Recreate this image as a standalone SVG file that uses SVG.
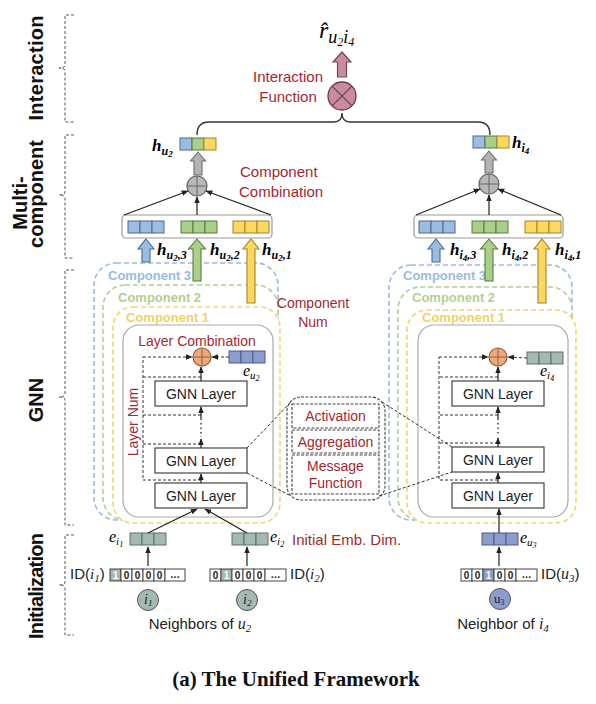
<svg xmlns="http://www.w3.org/2000/svg" width="596" height="704" viewBox="0 0 596 704">
<defs>
<marker id="ah" viewBox="0 0 10 10" refX="9" refY="5" markerWidth="7" markerHeight="7" markerUnits="userSpaceOnUse" orient="auto"><path d="M0,1 L10,5 L0,9 z" fill="#222"/></marker>
<style>
.sans{font-family:"Liberation Sans",Arial,sans-serif}
.bold{font-weight:bold}
.red{fill:#a3282f}
.mi{font-family:"Liberation Serif","Times New Roman",serif;font-style:italic}
.mb{font-family:"Liberation Serif","Times New Roman",serif;font-style:italic;font-weight:bold}
.br{fill:none;stroke:#555;stroke-width:1;stroke-dasharray:3 2}
.ln{stroke:#222;stroke-width:1.2;fill:none}
.dl{stroke:#333;stroke-width:1;fill:none;stroke-dasharray:3 2}
.cb{fill:#9cbde3;stroke:#55697f;stroke-width:1}
.cg{fill:#a9cf8a;stroke:#5b7a3e;stroke-width:1}
.cy{fill:#ffd75e;stroke:#a08530;stroke-width:1}
.cp{fill:#8c9ccc;stroke:#4f5b85;stroke-width:1}
.ct{fill:#a3b9b1;stroke:#5d716a;stroke-width:1}
.oh{fill:#fff;stroke:#444;stroke-width:1}
.gl{fill:#fff;stroke:#444;stroke-width:1.2}
.comp3{fill:#fff;stroke:#9bbbe0;stroke-width:1.6;stroke-dasharray:5 3}
.comp2{fill:#fff;stroke:#b3cf8f;stroke-width:1.6;stroke-dasharray:5 3}
.comp1{fill:#fff;stroke:#f3d56a;stroke-width:1.6;stroke-dasharray:5 3}
.gray{fill:#fff;stroke:#aaa;stroke-width:1.2}
.mod{fill:#fff;stroke:#444;stroke-width:1.1;stroke-dasharray:3 1.5}
</style>
</defs>
<rect x="0" y="0" width="596" height="704" fill="#fff"/>

<!-- side labels -->
<g id="side-labels" class="sans bold" font-size="20" fill="#111">
<text transform="translate(43,68) rotate(-90)" text-anchor="middle" textLength="105">Interaction</text>
<text transform="translate(27,203) rotate(-90)" text-anchor="middle">Multi-</text>
<text transform="translate(43,194) rotate(-90)" text-anchor="middle">component</text>
<text transform="translate(43,400) rotate(-90)" text-anchor="middle">GNN</text>
<text transform="translate(43,586) rotate(-90)" text-anchor="middle" textLength="106">Initialization</text>
</g>
<g id="brackets">
<path class="br" d="M74,15 L65,15 L65,65 Q65,68 59,68 Q65,68 65,71 L65,122 L74,122"/>
<path class="br" d="M74,135 L65,135 L65,192 Q65,195 59,195 Q65,195 65,198 L65,258 L74,258"/>
<path class="br" d="M74,270 L65,270 L65,394 Q65,397 59,397 Q65,397 65,400 L65,525 L74,525"/>
<path class="br" d="M74,535 L65,535 L65,582 Q65,585 59,585 Q65,585 65,588 L65,635 L74,635"/>
</g>

<!-- interaction -->
<g id="interaction">
<text x="319" y="38" class="mi" font-size="24">r&#770;<tspan font-size="18" dy="5">u</tspan><tspan font-size="12" dy="3">2</tspan><tspan font-size="18" dy="-3">i</tspan><tspan font-size="12" dy="3">4</tspan></text>
<path d="M342,52 L351,62 L346.5,62 L346.5,77 L337.5,77 L337.5,62 L333,62 Z" fill="#c98b9e" stroke="#7a4457" stroke-width="1.2"/>
<circle cx="342" cy="96" r="14" fill="#c98b9e" stroke="#6a3a4a" stroke-width="1.3"/>
<path d="M332.1,86.1 L351.9,105.9 M351.9,86.1 L332.1,105.9" stroke="#6a3a4a" stroke-width="1.1"/>
<text class="sans red" font-size="15" text-anchor="middle"><tspan x="288" y="82">Interaction</tspan><tspan x="288" y="102">Function</tspan></text>
<path d="M197,135 Q197,122 209,122 L334,122 Q342,122 342,113 Q342,122 350,122 L478,122 Q490,122 490,135" fill="none" stroke="#333" stroke-width="1.4"/>
</g>

<!-- multi-component left -->
<g id="mc-left">
<text x="152" y="151" class="mb" font-size="17">h<tspan font-size="12" dy="4">u</tspan><tspan font-size="9" dy="2">2</tspan></text>
<rect class="cb" x="180" y="138" width="12" height="12"/><rect class="cg" x="192" y="138" width="12" height="12"/><rect class="cy" x="204" y="138" width="12" height="12"/>
<path d="M198,152 L205.5,161 L202,161 L202,175 L194,175 L194,161 L190.5,161 Z" fill="#b3b3b3" stroke="#6f6f6f" stroke-width="1.1"/>
<circle cx="197" cy="186" r="10" fill="#b8b8b8" stroke="#666" stroke-width="1.2"/>
<path d="M187,186 L207,186 M197,176 L197,196" stroke="#666" stroke-width="1"/>
<text class="sans red" font-size="15"><tspan x="240" y="177">Component</tspan><tspan x="239" y="197">Combination</tspan></text>
<rect x="122" y="215" width="150" height="23" rx="4" fill="#fff" stroke="#999" stroke-width="1.2"/>
<rect class="cb" x="128" y="221" width="12" height="12"/><rect class="cb" x="140" y="221" width="12" height="12"/><rect class="cb" x="152" y="221" width="12" height="12"/>
<rect class="cg" x="181" y="221" width="12" height="12"/><rect class="cg" x="193" y="221" width="12" height="12"/><rect class="cg" x="205" y="221" width="12" height="12"/>
<rect class="cy" x="233" y="221" width="12" height="12"/><rect class="cy" x="245" y="221" width="12" height="12"/><rect class="cy" x="257" y="221" width="12" height="12"/>
</g>

<!-- multi-component right -->
<g id="mc-right">
<rect class="cb" x="473" y="136" width="12" height="12"/><rect class="cg" x="485" y="136" width="12" height="12"/><rect class="cy" x="497" y="136" width="12" height="12"/>
<text x="512" y="148" class="mb" font-size="17">h<tspan font-size="12" dy="4">i</tspan><tspan font-size="9" dy="2">4</tspan></text>
<path d="M489,151 L496.5,160 L493,160 L493,173 L485,173 L485,160 L481.5,160 Z" fill="#b3b3b3" stroke="#6f6f6f" stroke-width="1.1"/>
<circle cx="489" cy="184" r="10" fill="#b8b8b8" stroke="#666" stroke-width="1.2"/>
<path d="M479,184 L499,184 M489,174 L489,194" stroke="#666" stroke-width="1"/>
<rect x="414" y="215" width="149" height="23" rx="4" fill="#fff" stroke="#999" stroke-width="1.2"/>
<rect class="cb" x="419" y="221" width="12" height="12"/><rect class="cb" x="431" y="221" width="12" height="12"/><rect class="cb" x="443" y="221" width="12" height="12"/>
<rect class="cg" x="472" y="221" width="12" height="12"/><rect class="cg" x="484" y="221" width="12" height="12"/><rect class="cg" x="496" y="221" width="12" height="12"/>
<rect class="cy" x="525" y="221" width="12" height="12"/><rect class="cy" x="537" y="221" width="12" height="12"/><rect class="cy" x="549" y="221" width="12" height="12"/>
</g>

<!-- component boxes left -->
<g id="components-left">
<rect class="comp3" x="94" y="263" width="184" height="257" rx="22"/>
<rect class="comp2" x="103" y="285" width="175" height="235" rx="22"/>
<rect class="comp1" x="113" y="307" width="167" height="216" rx="20"/>
<text class="sans bold" font-size="13" fill="#9bbbe0" x="108" y="280">Component 3</text>
<text class="sans bold" font-size="13" fill="#b3cf8f" x="118" y="302">Component 2</text>
<text class="sans bold" font-size="13" fill="#f0d265" x="126" y="322">Component 1</text>
</g>
<!-- component boxes right -->
<g id="components-right">
<rect class="comp3" x="389" y="265" width="183" height="255" rx="22"/>
<rect class="comp2" x="398" y="287" width="174" height="233" rx="22"/>
<rect class="comp1" x="407" y="310" width="169" height="213" rx="20"/>
<text class="sans bold" font-size="13" fill="#9bbbe0" x="403" y="280">Component 3</text>
<text class="sans bold" font-size="13" fill="#b3cf8f" x="412" y="302">Component 2</text>
<text class="sans bold" font-size="13" fill="#f0d265" x="422" y="322">Component 1</text>
</g>

<!-- component arrows + labels -->
<g id="component-arrows">
<path d="M146,239 L154,249 L150,249 L150,262 L142,262 L142,249 L138,249 Z" fill="#9cbde3" stroke="#4a6a8a" stroke-width="1.1"/>
<path d="M197,239 L205.5,249 L201,249 L201,281 L193,281 L193,249 L188.5,249 Z" fill="#a9cf8a" stroke="#5b7a3e" stroke-width="1.1"/>
<path d="M251,239 L259,249 L255,249 L255,303 L247,303 L247,249 L243,249 Z" fill="#ffd75e" stroke="#a08530" stroke-width="1.1"/>
<path d="M436,239 L444,249 L440,249 L440,262 L432,262 L432,249 L428,249 Z" fill="#9cbde3" stroke="#4a6a8a" stroke-width="1.1"/>
<path d="M489,239 L497.5,249 L493,249 L493,281 L485,281 L485,249 L480.5,249 Z" fill="#a9cf8a" stroke="#5b7a3e" stroke-width="1.1"/>
<path d="M542,239 L550,249 L546,249 L546,303 L538,303 L538,249 L534,249 Z" fill="#ffd75e" stroke="#a08530" stroke-width="1.1"/>
<text x="157" y="255" class="mb" font-size="17">h<tspan font-size="12" dy="4">u</tspan><tspan font-size="9" dy="2">2</tspan><tspan font-size="12" dy="-2">,3</tspan></text>
<text x="210" y="255" class="mb" font-size="17">h<tspan font-size="12" dy="4">u</tspan><tspan font-size="9" dy="2">2</tspan><tspan font-size="12" dy="-2">,2</tspan></text>
<text x="262" y="255" class="mb" font-size="17">h<tspan font-size="12" dy="4">u</tspan><tspan font-size="9" dy="2">2</tspan><tspan font-size="12" dy="-2">,1</tspan></text>
<text x="450" y="255" class="mb" font-size="17">h<tspan font-size="12" dy="4">i</tspan><tspan font-size="9" dy="2">4</tspan><tspan font-size="12" dy="-2">,3</tspan></text>
<text x="502" y="255" class="mb" font-size="17">h<tspan font-size="12" dy="4">i</tspan><tspan font-size="9" dy="2">4</tspan><tspan font-size="12" dy="-2">,2</tspan></text>
<text x="555" y="255" class="mb" font-size="17">h<tspan font-size="12" dy="4">i</tspan><tspan font-size="9" dy="2">4</tspan><tspan font-size="12" dy="-2">,1</tspan></text>
<text class="sans red" font-size="14" text-anchor="middle"><tspan x="313" y="308">Component</tspan><tspan x="313" y="327">Num</tspan></text>
</g>

<!-- GNN left -->
<g id="gnn-left">
<rect class="gray" x="123" y="325" width="150" height="192" rx="16"/>
<text class="sans red" font-size="14" x="197" y="346" text-anchor="middle">Layer Combination</text>
<text class="sans red" font-size="14" transform="translate(138,422) rotate(-90)" text-anchor="middle">Layer Num</text>
<rect class="cp" x="229" y="351" width="12" height="12"/><rect class="cp" x="241" y="351" width="12" height="12"/><rect class="cp" x="253" y="351" width="12" height="12"/>
<text x="243" y="376" class="mi" font-size="16">e<tspan font-size="11" dy="3">u</tspan><tspan font-size="8" dy="2">2</tspan></text>
<circle cx="202" cy="357" r="9" fill="#f0a878" stroke="#8a5a3a" stroke-width="1.1"/>
<path d="M193,357 L211,357 M202,348 L202,366" stroke="#8a5a3a" stroke-width="0.9"/>
<rect class="gl" x="155" y="381" width="92" height="25"/>
<rect class="gl" x="155" y="448" width="92" height="25"/>
<rect class="gl" x="155" y="483" width="92" height="25"/>
<text class="sans" font-size="14" fill="#222" text-anchor="middle"><tspan x="201" y="399">GNN Layer</tspan><tspan x="201" y="466">GNN Layer</tspan><tspan x="201" y="501">GNN Layer</tspan></text>
</g>
<!-- GNN right -->
<g id="gnn-right">
<rect class="gray" x="418" y="325" width="150" height="192" rx="16"/>
<rect class="ct" x="527" y="352" width="12" height="12"/><rect class="ct" x="539" y="352" width="12" height="12"/><rect class="ct" x="551" y="352" width="12" height="12"/>
<text x="540" y="376" class="mi" font-size="16">e<tspan font-size="11" dy="3">i</tspan><tspan font-size="8" dy="2">4</tspan></text>
<circle cx="498" cy="357" r="9" fill="#f0a878" stroke="#8a5a3a" stroke-width="1.1"/>
<path d="M489,357 L507,357 M498,348 L498,366" stroke="#8a5a3a" stroke-width="0.9"/>
<rect class="gl" x="452" y="381" width="92" height="25"/>
<rect class="gl" x="452" y="447" width="92" height="25"/>
<rect class="gl" x="452" y="483" width="92" height="25"/>
<text class="sans" font-size="14" fill="#222" text-anchor="middle"><tspan x="498" y="399">GNN Layer</tspan><tspan x="498" y="465">GNN Layer</tspan><tspan x="498" y="501">GNN Layer</tspan></text>
</g>

<!-- message module -->
<g id="gnn-layer-detail">
<rect class="mod" x="287" y="397" width="98" height="103" rx="14"/>
<rect class="mod" x="292" y="404" width="87" height="24"/>
<rect class="mod" x="292" y="430" width="87" height="23"/>
<rect class="mod" x="292" y="455" width="87" height="39"/>
<text class="sans red" font-size="14" text-anchor="middle"><tspan x="335.5" y="421">Activation</tspan><tspan x="335.5" y="447">Aggregation</tspan><tspan x="335.5" y="471">Message</tspan><tspan x="335.5" y="488">Function</tspan></text>
</g>

<!-- initialization -->
<g id="init-i1">
<rect class="ct" x="130" y="533" width="12" height="12"/><rect class="ct" x="142" y="533" width="12" height="12"/><rect class="ct" x="154" y="533" width="12" height="12"/>
<text x="109" y="542" class="mi" font-size="16">e<tspan font-size="11" dy="3">i</tspan><tspan font-size="8" dy="2">1</tspan></text>
<text x="70" y="579" class="sans" font-size="15" fill="#222">ID(<tspan class="mi">i</tspan><tspan class="mi" font-size="11" dy="3">1</tspan><tspan dy="-3">)</tspan></text>
<rect x="110" y="569" width="11" height="12" fill="#a3b9b1" stroke="#444" stroke-width="1"/>
<rect class="oh" x="121" y="569" width="11" height="12"/><rect class="oh" x="132" y="569" width="11" height="12"/><rect class="oh" x="143" y="569" width="11" height="12"/><rect class="oh" x="154" y="569" width="11" height="12"/><rect class="oh" x="165" y="569" width="20" height="12"/>
<text class="sans bold" font-size="10" text-anchor="middle" fill="#222"><tspan x="115.5" y="579" fill="#fff">1</tspan><tspan x="126.5" y="579">0</tspan><tspan x="137.5" y="579">0</tspan><tspan x="148.5" y="579">0</tspan><tspan x="159.5" y="579">0</tspan><tspan x="175" y="578">…</tspan></text>
<circle cx="148" cy="600" r="10.5" fill="#a3b9b1" stroke="#555" stroke-width="1"/>
<text x="144" y="604" class="mi" font-size="14" fill="#222">i<tspan font-size="9" dy="2">1</tspan></text>
</g>
<g id="init-i2">
<rect class="ct" x="232" y="533" width="12" height="12"/><rect class="ct" x="244" y="533" width="12" height="12"/><rect class="ct" x="256" y="533" width="12" height="12"/>
<text x="270" y="542" class="mi" font-size="16">e<tspan font-size="11" dy="3">i</tspan><tspan font-size="8" dy="2">2</tspan></text>
<rect class="oh" x="210" y="569" width="11" height="12"/>
<rect x="221" y="569" width="11" height="12" fill="#a3b9b1" stroke="#444" stroke-width="1"/>
<rect class="oh" x="232" y="569" width="11" height="12"/><rect class="oh" x="243" y="569" width="11" height="12"/><rect class="oh" x="254" y="569" width="11" height="12"/><rect class="oh" x="265" y="569" width="21" height="12"/>
<text class="sans bold" font-size="10" text-anchor="middle" fill="#222"><tspan x="215.5" y="579">0</tspan><tspan x="226.5" y="579" fill="#fff">1</tspan><tspan x="237.5" y="579">0</tspan><tspan x="248.5" y="579">0</tspan><tspan x="259.5" y="579">0</tspan><tspan x="275.5" y="578">…</tspan></text>
<text x="290" y="579" class="sans" font-size="15" fill="#222">ID(<tspan class="mi">i</tspan><tspan class="mi" font-size="11" dy="3">2</tspan><tspan dy="-3">)</tspan></text>
<circle cx="247" cy="600" r="10.5" fill="#a3b9b1" stroke="#555" stroke-width="1"/>
<text x="243" y="604" class="mi" font-size="14" fill="#222">i<tspan font-size="9" dy="2">2</tspan></text>
<text x="200" y="629" class="sans" font-size="15" fill="#222" text-anchor="middle">Neighbors of <tspan class="mi" font-size="16">u</tspan><tspan class="mi" font-size="11" dy="3">2</tspan></text>
</g>
<g id="init-u3">
<rect class="cp" x="482" y="533" width="12" height="12"/><rect class="cp" x="494" y="533" width="12" height="12"/><rect class="cp" x="506" y="533" width="12" height="12"/>
<text x="520" y="543" class="mi" font-size="16">e<tspan font-size="11" dy="3">u</tspan><tspan font-size="8" dy="2">3</tspan></text>
<rect class="oh" x="461" y="569" width="11" height="12"/><rect class="oh" x="472" y="569" width="11" height="12"/>
<rect x="483" y="569" width="11" height="12" fill="#8c9ccc" stroke="#444" stroke-width="1"/>
<rect class="oh" x="494" y="569" width="11" height="12"/><rect class="oh" x="505" y="569" width="11" height="12"/><rect class="oh" x="516" y="569" width="21" height="12"/>
<text class="sans bold" font-size="10" text-anchor="middle" fill="#222"><tspan x="466.5" y="579">0</tspan><tspan x="477.5" y="579">0</tspan><tspan x="488.5" y="579" fill="#fff">1</tspan><tspan x="499.5" y="579">0</tspan><tspan x="510.5" y="579">0</tspan><tspan x="526.5" y="578">…</tspan></text>
<text x="541" y="579" class="sans" font-size="15" fill="#222">ID(<tspan class="mi" font-size="16">u</tspan><tspan class="mi" font-size="11" dy="3">3</tspan><tspan dy="-3">)</tspan></text>
<circle cx="500" cy="599" r="10.5" fill="#8c9ccc" stroke="#555" stroke-width="1"/>
<text x="494" y="603" font-family="Liberation Serif,serif" font-size="13" fill="#222">u<tspan font-size="8" dy="2">3</tspan></text>
<text x="503" y="629" class="sans" font-size="15" fill="#222" text-anchor="middle">Neighbor of <tspan class="mi" font-size="16">i</tspan><tspan class="mi" font-size="11" dy="3">4</tspan></text>
</g>
<text class="sans red" font-size="15" x="292" y="545">Initial Emb. Dim.</text>

<!-- connectors -->
<g id="connectors">
<line class="ln" x1="124" y1="215" x2="188" y2="191" marker-end="url(#ah)"/>
<line class="ln" x1="197" y1="215" x2="197" y2="197" marker-end="url(#ah)"/>
<line class="ln" x1="271" y1="215" x2="206" y2="191" marker-end="url(#ah)"/>
<line class="ln" x1="416" y1="215" x2="480" y2="189" marker-end="url(#ah)"/>
<line class="ln" x1="489" y1="215" x2="489" y2="195" marker-end="url(#ah)"/>
<line class="ln" x1="561" y1="215" x2="498" y2="189" marker-end="url(#ah)"/>
<line class="dl" x1="229" y1="357" x2="212" y2="357" marker-end="url(#ah)"/>
<path class="dl" d="M201,377 L143,377 M201,415 L143,415 M201,444 L143,444 M201,480 L143,480 L143,357"/>
<line class="dl" x1="143" y1="357" x2="192" y2="357" marker-end="url(#ah)"/>
<line class="ln" x1="201" y1="381" x2="201" y2="367" marker-end="url(#ah)"/>
<line class="ln" x1="201" y1="420" x2="201" y2="407" marker-end="url(#ah)"/>
<line x1="201" y1="423" x2="201" y2="437" stroke="#222" stroke-width="1.3" stroke-dasharray="1.5 3"/>
<line class="ln" x1="201" y1="448" x2="201" y2="439" marker-end="url(#ah)"/>
<line class="ln" x1="201" y1="483" x2="201" y2="474" marker-end="url(#ah)"/>
<line class="dl" x1="527" y1="358" x2="508" y2="357" marker-end="url(#ah)"/>
<path class="dl" d="M498,377 L439,377 M498,415 L439,415 M498,443 L439,443 M498,480 L439,480 L439,357"/>
<line class="dl" x1="439" y1="357" x2="488" y2="357" marker-end="url(#ah)"/>
<line class="ln" x1="498" y1="381" x2="498" y2="367" marker-end="url(#ah)"/>
<line class="ln" x1="498" y1="420" x2="498" y2="407" marker-end="url(#ah)"/>
<line x1="498" y1="423" x2="498" y2="436" stroke="#222" stroke-width="1.3" stroke-dasharray="1.5 3"/>
<line class="ln" x1="498" y1="447" x2="498" y2="438" marker-end="url(#ah)"/>
<line class="ln" x1="498" y1="483" x2="498" y2="473" marker-end="url(#ah)"/>
<path class="dl" d="M247,448 L290,403 M247,473 L291,496 M382,402 L452,447 M379,496 L452,472"/>
<line class="ln" x1="148" y1="533" x2="197" y2="509" marker-end="url(#ah)"/>
<line class="ln" x1="247" y1="533" x2="205" y2="509" marker-end="url(#ah)"/>
<line class="ln" x1="499" y1="533" x2="499" y2="509" marker-end="url(#ah)"/>
<line class="ln" x1="148" y1="566" x2="148" y2="547" marker-end="url(#ah)"/>
<line class="ln" x1="247" y1="566" x2="247" y2="547" marker-end="url(#ah)"/>
<line class="ln" x1="499" y1="566" x2="499" y2="547" marker-end="url(#ah)"/>
</g>

<text x="296" y="686" text-anchor="middle" font-family="Liberation Serif,serif" font-weight="bold" font-size="21" fill="#111">(a) The Unified Framework</text>
</svg>
